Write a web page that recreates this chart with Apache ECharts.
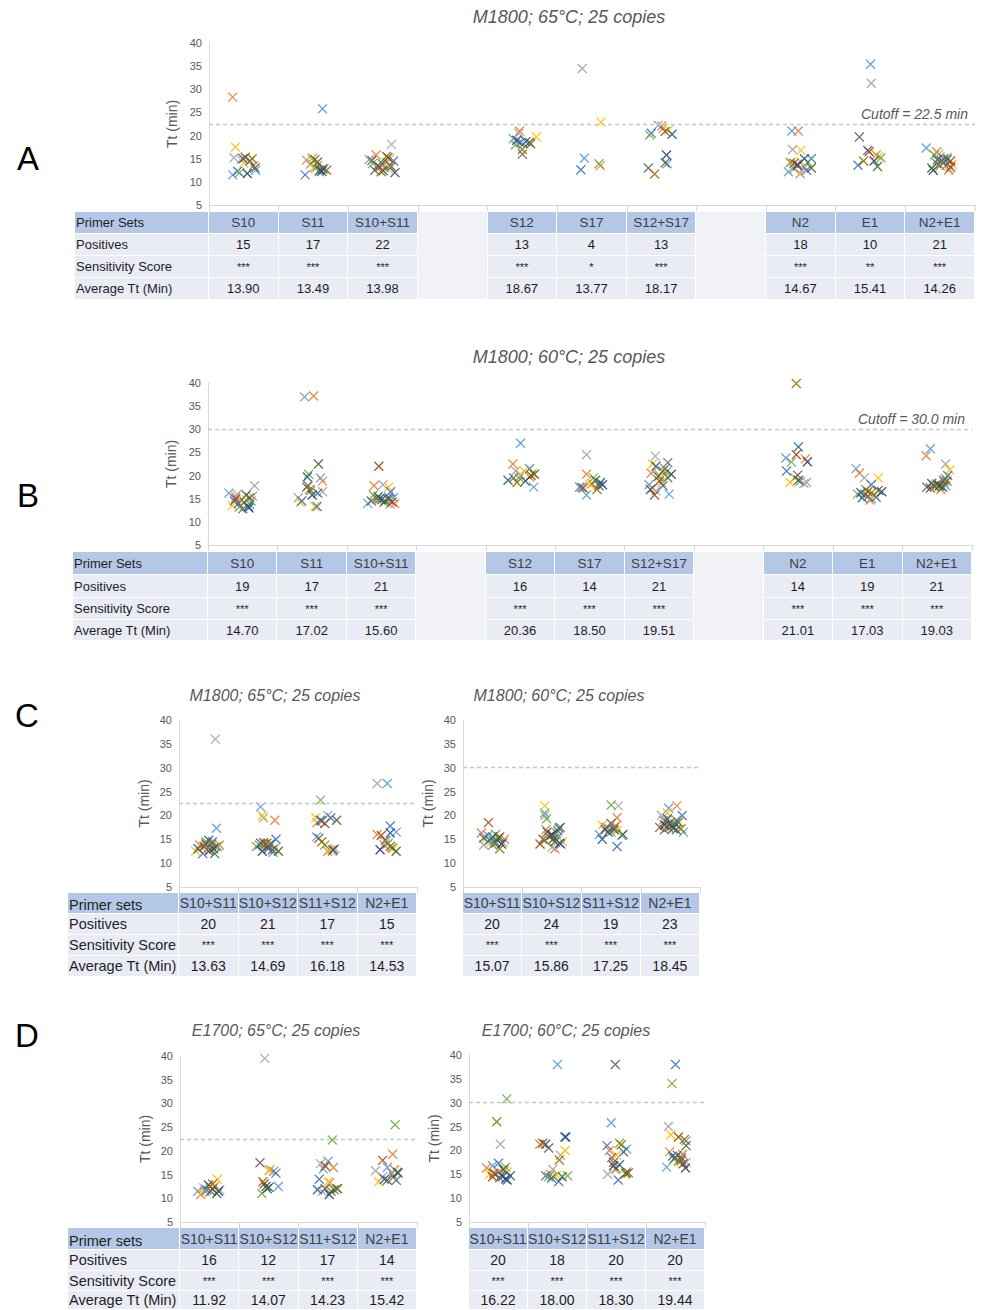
<!DOCTYPE html>
<html><head><meta charset="utf-8">
<script src="https://cdn.jsdelivr.net/npm/echarts@6/dist/echarts.min.js"></script>
<style>
html,body{margin:0;padding:0;background:#fff;width:984px;height:1310px;overflow:hidden;font-family:"Liberation Sans",Arial,sans-serif}
#chart{position:absolute;left:0;top:0;width:984px;height:1310px}
#tables{position:absolute;left:0;top:0;width:984px;height:1310px;pointer-events:none}
.cell{position:absolute;box-sizing:border-box;border-right:1px solid #fff;border-bottom:1px solid #fff;display:flex;align-items:center;justify-content:center;white-space:nowrap;color:#1e1e1e}
.lab{justify-content:flex-start;padding-left:1px}
</style></head>
<body><div id="chart"></div><div id="tables"></div>
<script>
const FONT = '"Liberation Sans", Arial, sans-serif';
const PALETTE = ['#5B9BD5','#ED7D31','#A5A5A5','#FFC000','#4472C4','#70AD47','#255E91','#9E480E','#636363','#997300','#264478','#43682B'];

// ---------- Panel A : M1800; 65°C ----------
const A_categories = ['S10','S11','S10+S11','','S12','S17','S12+S17','','N2','E1','N2+E1'];
const A_positives = [15,17,22,13,4,13,18,10,21];
const A_scores = ['***','***','***','***','*','***','***','**','***'];
const A_averages = ['13.90','13.49','13.98','18.67','13.77','18.17','14.67','15.41','14.26'];
const A_S10 = [[-.16,11.5],[-.16,28.3],[-.14,15.2],[-.12,17.5],[-.09,12.3],[-.06,12.0],[-.01,15.0],[.02,15.3],[.09,14.5],[.12,15.0],[.05,11.8],[.16,13.0],[.17,12.5],[.14,13.5],[-.04,14.8],[0,14.0]];
const A_S11 = [[.13,25.8],[-.1,14.7],[-.03,14],[-.01,15.2],[-.12,11.5],[.06,13.5],[.09,12.5],[.06,14.3],[.13,12.8],[.19,12.5],[.12,12.3],[.02,14.8],[-.02,15],[.03,13],[-.05,13.8],[.01,13.2],[.15,12.8],[.08,12.2]];
const A_S10S11 = [[-.2,14.8],[-.1,15.8],[.12,18.1],[.1,15],[.15,14.5],[-.15,14],[-.08,13.5],[-.05,13.2],[-.12,12.5],[-.03,12.2],[.17,12],[.05,15.5],[0,13.8],[.05,14.2],[.02,13],[.08,12.8],[.1,13.5],[-.02,14],[0,12.4],[.07,15.2],[-.16,14.6],[.12,13.3]];
const A_S12 = [[-.13,19.3],[-.04,21],[-.05,20.5],[.2,19.7],[-.03,18.5],[-.1,18],[.05,18.7],[.12,18.2],[0,16],[0,17],[-.08,19],[.1,18.5],[.02,18.2]];
const A_S17 = [[-.11,15.1],[.12,13.5],[-.14,34.5],[.13,22.9],[-.16,12.6],[.1,13.9]];
const A_S12S17 = [[-.05,22.2],[0,22.1],[.02,21.6],[.1,21.2],[-.15,20.5],[-.17,20.1],[.15,20.3],[.05,20.9],[-.19,13],[-.1,11.7],[.07,15.8],[.05,14.1],[.08,13.9]];
const A_N2 = [[-.13,21],[-.04,21],[-.12,17],[0,16.8],[.15,15],[.1,14.3],[.05,15],[-.1,14],[-.05,13.8],[-.15,14.2],[-.05,13.5],[.15,13],[-.18,12.2],[-.01,11.8],[.05,13.2],[0,14.3],[.08,12.5],[-.1,12.8]];
const A_E1 = [[0,35.4],[.08,15.8],[.01,31.3],[.12,15.5],[-.18,13.6],[.15,15.2],[-.04,16.8],[-.02,16.5],[-.16,19.7],[-.1,14.5],[.05,14.5],[.1,13.3]];
const A_N2E1 = [[-.2,17.3],[-.05,16.5],[-.02,16],[0,15.5],[.05,15],[.1,15.2],[.1,14.8],[.15,14.5],[-.05,14],[0,13.5],[-.1,12.5],[-.12,13],[.08,13.5],[.12,12.5],[.13,12.8],[.17,13.8],[.05,14.2],[-.08,15.8],[-.04,14.8],[.15,13.2],[.02,14.5]];

// ---------- Panel B : M1800; 60°C ----------
const B_categories = ['S10','S11','S10+S11','','S12','S17','S12+S17','','N2','E1','N2+E1'];
const B_positives = [19,17,21,16,14,21,14,19,21];
const B_scores = ['***','***','***','***','***','***','***','***','***'];
const B_averages = ['14.70','17.02','15.60','20.36','18.50','19.51','21.01','17.03','19.03'];
const B_S10 = [[-.2,16.2],[-.1,15.5],[-.08,16],[-.15,13.5],[-.12,14.5],[-.05,13.2],[-.06,14],[-.1,15],[0,12.8],[.02,14.2],[.08,13.3],[.05,15.8],[.1,13.8],[.14,15.5],[.17,17.8],[.05,14.8],[.1,15.2],[.12,14.5],[.09,13]];
const B_S11 = [[-.11,37],[.02,37.2],[-.2,15.2],[-.17,14.2],[-.15,14.5],[-.05,20.3],[-.07,19.7],[-.08,17.5],[-.06,17.8],[-.02,16.8],[0,15.8],[.09,22.5],[.12,19.5],[.15,18.8],[.15,16.5],[.04,13.3],[.07,13.3],[-.04,17],[.08,16.2]];
const B_S10S11 = [[-.2,14],[-.11,17.8],[.02,18],[.1,17.5],[.13,16.5],[-.12,15.8],[-.05,15.5],[-.04,22],[-.15,14.5],[-.07,15],[0,14.8],[.05,14.5],[.17,15.2],[.19,14],[.12,13.8],[.08,15],[.1,15.3],[.03,14.2],[-.03,15],[.15,14.3],[.1,14.8]];
const B_S12 = [[0,27],[-.11,22.5],[-.07,21],[.05,21],[.13,21.5],[-.02,19.5],[-.18,19],[.15,20],[-.1,19.5],[-.05,18.5],[.07,18.8],[.2,20.3],[.19,17.5],[.13,19.7],[0,20.2],[.17,20.5]];
const B_S17 = [[-.05,15.8],[-.05,20.3],[-.05,24.5],[0,18],[-.15,17.5],[.05,19.5],[.15,18.5],[-.1,17.3],[.13,17.8],[.1,17],[.18,18],[.08,19],[-.12,17.5],[.03,18.3]];
const B_S12S17 = [[.14,16],[-.12,20.5],[-.06,24.2],[-.1,22.5],[.08,21.5],[0,20],[-.05,22],[-.07,15.8],[.12,22.8],[.05,21],[.17,20.3],[.12,19.5],[-.15,18],[-.1,17.3],[-.05,16.7],[.03,18.5],[.05,17.8],[.1,20.8],[-.13,17],[0,18.8],[-.02,19.8]];
const B_N2 = [[-.18,23.8],[.1,23.6],[.12,18.5],[-.12,18.5],[-.17,21],[-.1,22.9],[0,26.2],[-.03,24.5],[-.01,20.1],[-.03,39.9],[.13,23],[0,19],[.03,18.8],[-.05,19.5],[.08,18.3]];
const B_E1 = [[-.17,21.5],[-.12,20.5],[-.05,19.5],[.15,19.5],[.05,18],[-.15,16],[-.1,16.3],[0,16.5],[0,15.5],[.05,16.2],[.2,16.5],[.15,16.8],[.05,15],[.03,14.7],[-.05,16],[.1,15.8],[.12,15.3],[-.03,17],[-.08,15.2]];
const B_N2E1 = [[-.1,25.8],[-.16,24.3],[.12,22.5],[.18,21.2],[.15,20],[.12,19.3],[-.15,17.5],[-.1,17.3],[-.05,17.8],[0,18],[.03,17.8],[.08,17.5],[.12,17.8],[.05,17],[.1,18.5],[-.03,18],[0,18.2],[.06,17.6],[-.08,18.3],[.14,18.8],[.09,19]];

// ---------- Panel C : M1800 combos ----------
const C_categories = ['S10+S11','S10+S12','S11+S12','N2+E1'];
const C65_positives = [20,21,17,15];
const C65_scores = ['***','***','***','***'];
const C65_averages = ['13.63','14.69','16.18','14.53'];
const C60_positives = [20,24,19,23];
const C60_scores = ['***','***','***','***'];
const C60_averages = ['15.07','15.86','17.25','18.45'];
const C65_S10S11 = [[.13,17.3],[-.15,13.8],[.11,36],[-.22,12.5],[-.1,12],[-.05,14.5],[0,14.8],[-.08,13.5],[0,12.5],[.05,14],[.08,13],[.1,12],[.15,13.5],[.18,13.8],[-.02,14.2],[-.12,13.2],[.06,14.5],[.12,13.5],[-.18,13],[.02,12.8],[-.05,14]];
const C65_S10S12 = [[-.13,21.8],[.11,19],[-.08,19.5],[-.1,20],[.13,15],[-.2,13.5],[-.13,14.2],[-.05,14],[0,13.5],[-.02,14.2],[-.1,12.5],[.17,12.5],[.08,12.3],[.05,14],[.1,13],[.12,13.2],[.03,14],[-.15,13.8],[0,13],[-.08,14.3],[.07,12.8]];
const C65_S11S12 = [[-.19,15.5],[-.18,18.5],[0,20],[-.2,19.5],[-.1,18.8],[-.12,23.2],[-.12,19],[-.05,18.3],[-.15,15.2],[-.1,14.5],[.09,12.8],[.15,19],[.08,12.5],[0,12.5],[.12,13],[.05,12.8],[.05,19.5],[-.05,13.8]];
const C65_N2E1 = [[0,26.7],[-.17,16],[-.17,26.7],[-.02,14.5],[.05,17.8],[.02,14.2],[.05,16.3],[-.1,15.8],[.05,13.5],[.08,13.2],[-.12,12.8],[.15,12.5],[.15,16.5],[-.05,13.8],[0,14],[.1,13],[-.03,14.8]];
const C60_S10S11 = [[-.08,15.8],[-.19,16.3],[-.15,13.8],[-.12,15],[-.05,14.8],[.05,16],[0,15.5],[-.07,18.5],[.05,14.2],[.12,13],[.15,14],[.1,15.2],[.08,14.8],[.2,15],[.18,14.3],[-.02,14.5],[.03,14.6],[0,13.8],[-.15,15.3],[.12,15.5]];
const C60_S10S12 = [[-.12,20.5],[-.1,17],[-.12,20],[-.12,22],[.12,17.3],[-.09,19.3],[-.08,16.5],[-.2,14],[-.15,15],[-.05,15.5],[0,16],[.05,14.5],[.1,15.5],[.05,13],[0,13.3],[.18,14.5],[.15,14],[.08,16.3],[.02,15],[-.02,15.8],[.1,16.8],[-.12,14.8],[.13,14.2],[.14,17.5]];
const C60_S11S12 = [[-.2,16],[.1,19.5],[.12,22],[-.15,18],[.1,13.5],[0,22.2],[-.15,15],[-.1,17],[0,18.3],[.05,17.5],[-.05,16.5],[.2,16],[.18,15.8],[.08,17.8],[-.02,17.2],[.1,16.8],[-.08,17.5],[0,16.5],[.05,17]];
const C60_N2E1 = [[-.03,21.5],[.11,22],[-.15,20],[-.05,20.5],[.2,20],[.1,19],[-.05,19.3],[-.18,17.5],[-.1,17],[-.03,17.5],[.05,17.3],[.1,17],[.22,16.5],[0,18],[-.12,19],[.15,18.5],[.08,18.2],[-.08,18.8],[.03,17.8],[-.02,18.3],[.13,18.6],[.18,17.2],[-.1,18]];

// ---------- Panel D : E1700 combos ----------
const D_categories = ['S10+S11','S10+S12','S11+S12','N2+E1'];
const D65_positives = [16,12,17,14];
const D65_scores = ['***','***','***','***'];
const D65_averages = ['11.92','14.07','14.23','15.42'];
const D60_positives = [20,18,20,20];
const D60_scores = ['***','***','***','***'];
const D60_averages = ['16.22','18.00','18.30','19.44'];
const D65_S10S11 = [[-.2,11.5],[-.15,10.8],[-.1,12.2],[.13,14],[-.05,11.8],[0,12.5],[-.02,12.8],[.05,12],[.02,11.5],[.05,13],[.15,11.5],[.12,11],[-.08,11.5],[.08,12.5],[.17,11.8],[-.12,11.2]];
const D65_S10S12 = [[.08,15.7],[.02,16],[-.07,39.5],[0,15.8],[.12,15.3],[-.12,11],[-.05,12.5],[-.08,13],[-.15,17.5],[-.1,13.5],[0,12.3],[-.03,12],[.16,12.5]];
const D65_S11S12 = [[0,17.8],[.09,16.5],[-.13,17.3],[0,13.5],[-.15,14],[.07,22.3],[-.18,11.8],[-.05,16.8],[-.05,12],[.05,11.5],[.02,10.8],[.15,12],[-.08,16.2],[.03,13.3],[-.1,11.5],[.17,12],[.1,11.8]];
const D65_N2E1 = [[0,16.5],[.09,19.3],[-.2,15.8],[-.15,13.5],[.15,13.8],[.13,25.5],[-.05,14],[-.08,18],[0,13.8],[.1,14.5],[.18,15.3],[.17,15.5],[.08,15.2],[.12,16],[-.08,14.5]];
const D60_S10S11 = [[-.1,16.8],[-.2,16.3],[.03,21.3],[-.15,15],[0,17.3],[.14,30.8],[.15,13.8],[-.1,14.5],[.02,14.3],[-.03,26],[.12,14],[.08,16],[-.05,15],[0,15.5],[.1,15.8],[.15,15.5],[.05,14.8],[.12,16.5],[.2,14.7],[-.08,15.2],[.07,14.5]];
const D60_S10S12 = [[0,38],[-.3,21.3],[.05,19],[.13,20],[-.2,14.7],[-.15,14.5],[-.2,21.3],[-.25,21.5],[-.15,20.5],[.03,18],[.14,22.8],[.08,14.5],[.12,22.8],[-.12,15],[-.08,16],[-.02,14.8],[.02,13.5],[.17,14.7],[-.1,14.2]];
const D60_S11S12 = [[-.09,25.8],[-.12,20],[-.15,15],[0,19],[-.16,21],[.05,21.5],[.12,19.7],[-.05,17.5],[-.02,38],[.08,21.2],[-.05,16.8],[.16,15.2],[.17,20.3],[-.02,16],[.17,15.5],[.15,15],[.03,13.8],[0,16.2],[.05,17],[.2,15.3],[-.08,18.5]];
const D60_N2E1 = [[-.15,16.5],[-.1,19.7],[-.12,25],[-.08,23.3],[0,38],[-.06,34],[0,18.5],[.05,22.8],[.03,19],[.15,22.3],[.17,16.3],[.18,21],[.18,22],[.12,19.2],[.18,17.5],[.08,17.5],[.1,18],[-.03,18.2],[-.05,18.8],[.13,17.2],[.1,18.5],[.05,17.8]];

// ---------- layout ----------
const panels = [
  {title:'M1800; 65°C; 25 copies', tx:569, ty:17, ts:18, cats:A_categories, pts:[A_S10,A_S11,A_S10S11,A_S12,A_S17,A_S12S17,A_N2,A_E1,A_N2E1],
   cutoff:22.5, cutLabel:'Cutoff = 22.5 min', grid:{left:209, top:43, width:766, height:162},
   table:{labelLeft:75, top:212, rows:[22,22,22,22], head:'Primer Sets', pos:A_positives, score:A_scores, avg:A_averages, fs:13, lfs:13, hfs:13.5}},
  {title:'M1800; 60°C; 25 copies', tx:569, ty:357, ts:18, cats:B_categories, pts:[B_S10,B_S11,B_S10S11,B_S12,B_S17,B_S12S17,B_N2,B_E1,B_N2E1],
   cutoff:30, cutLabel:'Cutoff = 30.0 min', grid:{left:208, top:383, width:764, height:162},
   table:{labelLeft:73, top:552, rows:[23,23,22,21], head:'Primer Sets', pos:B_positives, score:B_scores, avg:B_averages, fs:13, lfs:13, hfs:13.5}},
  {title:'M1800; 65°C; 25 copies', tx:275, ty:695, ts:16, cats:C_categories, pts:[C65_S10S11,C65_S10S12,C65_S11S12,C65_N2E1],
   cutoff:22.5, cutLabel:null, grid:{left:179, top:720, width:238, height:167},
   table:{labelLeft:68, top:893, rows:[21,21,21,21], head:'Primer sets', pos:C65_positives, score:C65_scores, avg:C65_averages, fs:14, lfs:14.5, hfs:14}},
  {title:'M1800; 60°C; 25 copies', tx:559, ty:695, ts:16, cats:C_categories, pts:[C60_S10S11,C60_S10S12,C60_S11S12,C60_N2E1],
   cutoff:30, cutLabel:null, grid:{left:463, top:720, width:237, height:167},
   table:{labelLeft:null, top:893, rows:[21,21,21,21], head:'', pos:C60_positives, score:C60_scores, avg:C60_averages, fs:14, lfs:14.5, hfs:14}},
  {title:'E1700; 65°C; 25 copies', tx:276, ty:1030, ts:16, cats:D_categories, pts:[D65_S10S11,D65_S10S12,D65_S11S12,D65_N2E1],
   cutoff:22.5, cutLabel:null, grid:{left:180, top:1056, width:237, height:166},
   table:{labelLeft:68, top:1228, rows:[22,21,20,19], head:'Primer sets', pos:D65_positives, score:D65_scores, avg:D65_averages, fs:14, lfs:14.5, hfs:14}},
  {title:'E1700; 60°C; 25 copies', tx:566, ty:1030, ts:16, cats:D_categories, pts:[D60_S10S11,D60_S10S12,D60_S11S12,D60_N2E1],
   cutoff:30, cutLabel:null, grid:{left:469, top:1055, width:236, height:167},
   table:{labelLeft:null, top:1228, rows:[22,21,20,19], head:'', pos:D60_positives, score:D60_scores, avg:D60_averages, fs:14, lfs:14.5, hfs:14}}
];
const letters = [['A',28,158],['B',28,495],['C',27,715],['D',27,1035]];

const XPATH = 'path://M0,0L10,10M10,0L0,10';
const grids=[], xAxes=[], yAxes=[], series=[], graphics=[];

panels.forEach((p, pi) => {
  grids.push(Object.assign({containLabel:false}, p.grid));
  xAxes.push({type:'value', gridIndex:pi, min:0, max:p.cats.length, interval:1,
    axisLine:{show:true, lineStyle:{color:'#d9d9d9', width:1}},
    axisTick:{show:true, length:6, lineStyle:{color:'#d9d9d9'}},
    axisLabel:{show:false}, splitLine:{show:false}});
  yAxes.push({type:'value', gridIndex:pi, min:5, max:40, interval:5,
    axisLine:{show:true, lineStyle:{color:'#d9d9d9', width:1}},
    axisTick:{show:false}, splitLine:{show:false},
    axisLabel:{color:'#595959', fontSize:11, margin:7, fontFamily:FONT},
    name:'Tt (min)', nameLocation:'middle', nameGap:28,
    nameTextStyle:{color:'#595959', fontSize:14, fontFamily:FONT}});
  const slotIdx = [];
  p.cats.forEach((c, i) => { if (c) slotIdx.push(i); });
  const byColor = PALETTE.map(() => []);
  p.pts.forEach((arr, ci) => arr.forEach((pt, k) => {
    byColor[k % PALETTE.length].push([slotIdx[ci] + 0.5 + pt[0], pt[1]]);
  }));
  byColor.forEach((d, c) => {
    const s = {type:'scatter', xAxisIndex:pi, yAxisIndex:pi, data:d, symbol:XPATH, symbolSize:9,
      symbolKeepAspect:true, silent:true, z:3,
      itemStyle:{color:'rgba(0,0,0,0)', borderColor:PALETTE[c], borderWidth:1.3, opacity:0.9}};
    if (c === 0) {
      s.markLine = {silent:true, symbol:['none','none'], animation:false,
        lineStyle:{type:[4,3], color:'#c6c6c6', width:1.4},
        label:{show:!!p.cutLabel, position:'insideEndTop', formatter:p.cutLabel || '',
          color:'#595959', fontSize:14, fontStyle:'italic', fontFamily:FONT, distance:[7,3]},
        data:[{yAxis:p.cutoff}]};
    }
    series.push(s);
  });
  graphics.push({type:'text', x:p.tx, y:p.ty, silent:true,
    style:{text:p.title, fill:'#595959', fontSize:p.ts, fontStyle:'italic', fontFamily:FONT, align:'center', verticalAlign:'middle'}});
});
letters.forEach(l => graphics.push({type:'text', x:l[1], y:l[2], silent:true,
  style:{text:l[0], fill:'#000', fontSize:33, fontFamily:FONT, align:'center', verticalAlign:'middle'}}));

const chart = echarts.init(document.getElementById('chart'), null, {renderer:'svg', width:984, height:1310});
chart.setOption({animation:false, backgroundColor:'#fff', grid:grids, xAxis:xAxes, yAxis:yAxes, series:series, graphic:graphics});

// ---------- tables ----------
const HEAD_BG = '#B4C7E7', BODY_BG = '#E9EBF5', GAP_BG = '#F1F2F8';
const ROW_LABELS = ['Positives','Sensitivity Score','Average Tt (Min)'];
const root = document.getElementById('tables');
function cell(x, y, w, h, bg, text, cls, fs, color, align) {
  const d = document.createElement('div');
  d.className = 'cell' + (cls ? ' ' + cls : '');
  d.style.left = x + 'px'; d.style.top = y + 'px';
  d.style.width = w + 'px'; d.style.height = h + 'px';
  d.style.background = bg; d.style.fontSize = fs + 'px';
  if (color) d.style.color = color;
  if (align) d.style.alignItems = align;
  d.textContent = text;
  root.appendChild(d);
}
panels.forEach(p => {
  const t = p.table, g = p.grid;
  const tops = [t.top];
  t.rows.forEach(h => tops.push(tops[tops.length-1] + h));
  const total = tops[tops.length-1] - t.top;
  const slotW = g.width / p.cats.length;
  if (t.labelLeft !== null) {
    const lw = g.left - t.labelLeft;
    cell(t.labelLeft, tops[0], lw, t.rows[0], HEAD_BG, t.head, 'lab', t.lfs, '#1e1e1e', t.lfs > 13.5 ? 'flex-end' : 'center');
    ROW_LABELS.forEach((lab, r) => cell(t.labelLeft, tops[r+1], lw, t.rows[r+1], BODY_BG, lab, 'lab', t.lfs, '#1e1e1e'));
  }
  let ci = 0;
  p.cats.forEach((c, i) => {
    const x = g.left + i * slotW;
    if (!c) { cell(x, t.top, slotW, total, GAP_BG, ''); return; }
    cell(x, tops[0], slotW, t.rows[0], HEAD_BG, c, '', t.hfs, '#404040');
    cell(x, tops[1], slotW, t.rows[1], BODY_BG, String(t.pos[ci]), '', t.fs, '#1e1e1e');
    cell(x, tops[2], slotW, t.rows[2], BODY_BG, t.score[ci], '', 11, '#1e1e1e');
    cell(x, tops[3], slotW, t.rows[3], BODY_BG, t.avg[ci], '', t.fs, '#1e1e1e');
    ci++;
  });
});
</script></body></html>
